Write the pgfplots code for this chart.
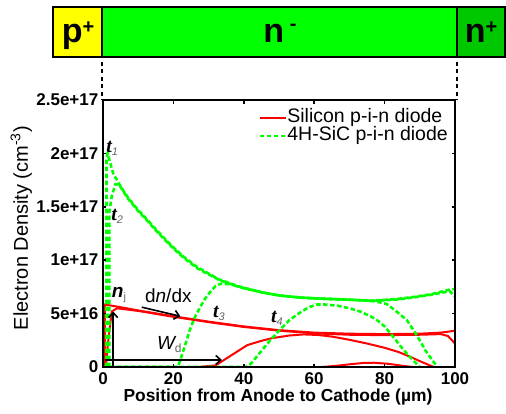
\documentclass[border=0pt]{standalone}
\usepackage{pgfplots}
\pgfplotsset{compat=1.18}
\usepackage{fontspec}
\setmainfont{Liberation Sans}
\newfontfamily\serif{Liberation Serif}
\usetikzlibrary{arrows.meta}
\definecolor{pgreen}{RGB}{0,255,0}
\definecolor{pred}{RGB}{255,0,0}
\definecolor{pyellow}{RGB}{255,255,0}
\definecolor{ndark}{RGB}{0,200,0}
\newcommand{\tl}[1]{{\fontsize{20}{20}\selectfont\serif\bfseries\itshape t}{\fontsize{11}{11}\selectfont\itshape\color{black!60}\raisebox{-3pt}{#1}}}
\begin{document}
\begin{tikzpicture}
\useasboundingbox (-103pt,-46pt) rectangle (403pt,367pt);
\begin{axis}[
  at={(0pt,0pt)}, anchor=south west,
  scale only axis, width=352pt, height=267pt,
  xmin=0, xmax=100, ymin=0, ymax=2.5e17,
  axis on top,
  axis line style={line width=1.8pt},
  tick align=inside, major tick length=3.5pt,
  tick style={black, line width=1.5pt},
  xtick={0,20,40,60,80,100},
  xticklabels={0,20,40,60,80,100},
  ytick={0,5e16,1e17,1.5e17,2e17,2.5e17},
  yticklabels={0,5e+16,1e+17,1.5e+17,2e+17,2.5e+17},
  scaled y ticks=false,
  ticklabel style={font=\fontsize{17}{17}\selectfont\bfseries},
  xticklabel style={inner sep=0pt, yshift=-5.5pt},
  yticklabel style={inner sep=0pt, xshift=-4.5pt},
  xlabel={Position from Anode to Cathode (µm)},
  xlabel style={font=\fontsize{17.4}{17.4}\selectfont\bfseries, at={(axis description cs:0.497,-0.112)}, anchor=center},
  ylabel={Electron Density (cm\textsuperscript{-3})},
  ylabel style={font=\fontsize{20}{20}\selectfont, at={(axis description cs:-0.232,0.52)}, anchor=center},
  legend style={at={(axis description cs:0.432,0.975)}, anchor=north west, draw=none, fill=none,
    font=\fontsize{19.5}{19.5}\selectfont,
    nodes={inner sep=0.5pt, text height=13.5pt, text depth=3.5pt},
    row sep=0pt,
    /tikz/every even column/.append style={column sep=2pt}},
  legend cell align=left,
  legend image code/.code={\draw[#1] (0pt,0pt) -- (26pt,0pt);},
]
% Silicon (red)
\addplot[pred, line width=2pt] coordinates {
(0.5,0) (0.5,5.85e16) (5,5.6e16) (10,5.3e16) (20,4.75e16) (30,4.25e16) (40,3.8e16) (50,3.45e16) (60,3.22e16) (70,3.12e16) (80,3.08e16) (90,3.12e16) (96,3.22e16) (99,3.35e16) (100,3.4e16)
};
\addlegendentry{Silicon p-i-n diode}
\addplot[pred, line width=2pt, forget plot] coordinates {
(0.8,0) (1.5,2.5e16) (2.5,5.2e16) (4,5.5e16) (10,5.25e16) (20,4.7e16) (30,4.2e16) (40,3.75e16) (50,3.4e16) (60,3.15e16) (70,3.02e16) (80,2.98e16) (90,3.02e16) (96,3.08e16) (98,2.9e16) (100,2.2e16)
};
\addplot[pred, line width=2pt, forget plot] coordinates {
(0,0) (27,0) (32,0.15e16) (36,1.0e16) (41,2.05e16) (45,2.45e16) (48,2.7e16) (53,2.95e16) (57,3.05e16) (61,3.0e16) (65,2.85e16) (70,2.55e16) (75,2.2e16) (80,1.8e16) (84,1.4e16) (87,1.0e16) (90,0.55e16) (92.5,0.2e16) (94,0)
};
\addplot[pred, line width=2pt, forget plot] coordinates {
(62,0) (66,0.1e16) (70,0.25e16) (74,0.38e16) (77,0.4e16) (81,0.3e16) (85,0.12e16) (88,0) (100,0)
};
% 4H-SiC (green)
\addplot[pgreen, line width=2.6pt, dash pattern=on 4.5pt off 2.5pt] coordinates {
(1,0) (1,1.95e17) (1.3,2.0e17) (3,1.8e17) (4,1.75e17) (5,1.69e17) (7,1.59e17) (10,1.47e17) (12,1.40e17) (15,1.29e17) (17,1.22e17) (20,1.12e17) (23,1.03e17) (27,0.93e17) (33,0.82e17) (39,0.75e17) (45,0.70e17) (50,0.67e17) (56,0.65e17) (62,0.64e17) (70,0.63e17) (76,0.62e17) (83,0.635e17) (88,0.655e17) (93,0.68e17) (98.5,0.725e17) (100,0.73e17)
};
\addlegendentry{4H-SiC p-i-n diode}
\addplot[pgreen, line width=2.6pt, dash pattern=on 4.5pt off 2.5pt, forget plot] coordinates {
(1.8,0) (1.8,1.45e17) (2.5,1.6e17) (3.5,1.71e17) (4.5,1.71e17) (5.5,1.66e17) (7,1.58e17) (10,1.46e17) (12,1.39e17) (15,1.28e17) (17,1.21e17) (20,1.11e17) (23,1.02e17) (27,0.92e17) (33,0.815e17) (39,0.745e17) (45,0.70e17) (50,0.67e17) (56,0.65e17) (62,0.64e17) (70,0.63e17) (76,0.62e17) (83,0.63e17) (88,0.65e17) (93,0.675e17) (98.5,0.71e17) (100,0.66e17)
};
\addplot[pgreen, line width=2.6pt, dash pattern=on 4.5pt off 2.5pt, forget plot] coordinates {
(0,0) (21.3,0) (23,1.7e16) (24.7,3.5e16) (26,4.6e16) (27.6,5.6e16) (29,6.4e16) (30.4,7.0e16) (32,7.6e16) (33.5,7.8e16) (36,7.75e16) (39,7.5e16) (45,7.0e16) (50,6.7e16) (56,6.5e16) (62,6.4e16) (70,6.3e16) (76,6.2e16) (78,6.1e16) (80.6,5.9e16) (83,5.3e16) (86.3,4.4e16) (88.5,3.3e16) (90,2.5e16) (91.5,1.6e16) (93,0.9e16) (94.3,0.3e16) (95,0)
};
\addplot[pgreen, line width=2.6pt, dash pattern=on 4.5pt off 2.5pt, forget plot] coordinates {
(0,0) (40.5,0) (42,0.3e16) (44.5,1.3e16) (47.5,2.5e16) (50,3.4e16) (53,4.4e16) (56,5.1e16) (58.5,5.6e16) (60.8,5.85e16) (63,5.85e16) (66.5,5.75e16) (70,5.5e16) (73,5.2e16) (76,4.75e16) (78,4.35e16) (80,3.8e16) (82.4,2.85e16) (84.5,1.95e16) (87,1.0e16) (88.5,0.5e16) (90,0)
};
% annotations
\draw[-{Straight Barb[length=5pt,width=9pt]}, line width=1.6pt] (axis cs:0.6,6.6e15) -- (axis cs:33.8,6.6e15);
\draw[-{Straight Barb[length=5pt,width=9pt]}, line width=1.6pt] (axis cs:2.9,0) -- (axis cs:2.9,5.2e16);
\draw[-{Straight Barb[length=5pt,width=9pt]}, line width=1.6pt] (axis cs:11,5.6e16) -- (axis cs:22,4.75e16);
\node[anchor=base west, inner sep=0pt] at (axis cs:0.9,2.01e17) {\tl{1}};
\node[anchor=base west, inner sep=0pt] at (axis cs:2.3,1.37e17) {\tl{2}};
\node[anchor=base west, inner sep=0pt] at (axis cs:31.2,4.68e16) {\tl{3}};
\node[anchor=base west, inner sep=0pt] at (axis cs:47.7,4.2e16) {\tl{4}};
\node[anchor=base west, inner sep=0pt] at (axis cs:2.5,6.5e16) {{\fontsize{19}{19}\selectfont\bfseries\itshape n}{\fontsize{11}{11}\selectfont\color{black!60}\raisebox{-3pt}{j}}};
\node[anchor=base west, inner sep=0pt] at (axis cs:11.9,6.0e16) {\fontsize{19}{19}\selectfont d\textit{n}/dx};
\node[anchor=base west, inner sep=0pt] at (axis cs:15.3,1.6e16) {{\fontsize{19}{19}\selectfont\itshape W}{\fontsize{12}{12}\selectfont\color{black!60}\raisebox{-3pt}{d}}};
\end{axis}
% device bar
\fill[pyellow] (-50pt,310pt) rectangle (-1pt,360pt);
\fill[pgreen] (-1pt,310pt) rectangle (354pt,360pt);
\fill[ndark] (354pt,310pt) rectangle (402pt,360pt);
\draw[line width=2.6pt] (-50pt,310pt) rectangle (402pt,360pt);
\draw[line width=2.6pt] (-1pt,310pt) -- (-1pt,360pt);
\draw[line width=2.6pt] (354pt,310pt) -- (354pt,360pt);
\draw[line width=2.4pt, dash pattern=on 4pt off 3.5pt] (-1pt,305pt) -- (-1pt,267pt);
\draw[line width=2.4pt, dash pattern=on 4pt off 3.5pt] (354pt,305pt) -- (354pt,267pt);
\node[font=\fontsize{34}{34}\selectfont\bfseries, anchor=base] at (-25pt,324pt) {p\raisebox{9pt}{\fontsize{20}{20}\selectfont +}};
\node[font=\fontsize{34}{34}\selectfont\bfseries, anchor=base] at (177pt,324pt) {n\,\raisebox{12pt}{\fontsize{20}{20}\selectfont -}};
\node[font=\fontsize{34}{34}\selectfont\bfseries, anchor=base] at (378pt,324pt) {n\raisebox{9pt}{\fontsize{20}{20}\selectfont +}};
\end{tikzpicture}
\end{document}
